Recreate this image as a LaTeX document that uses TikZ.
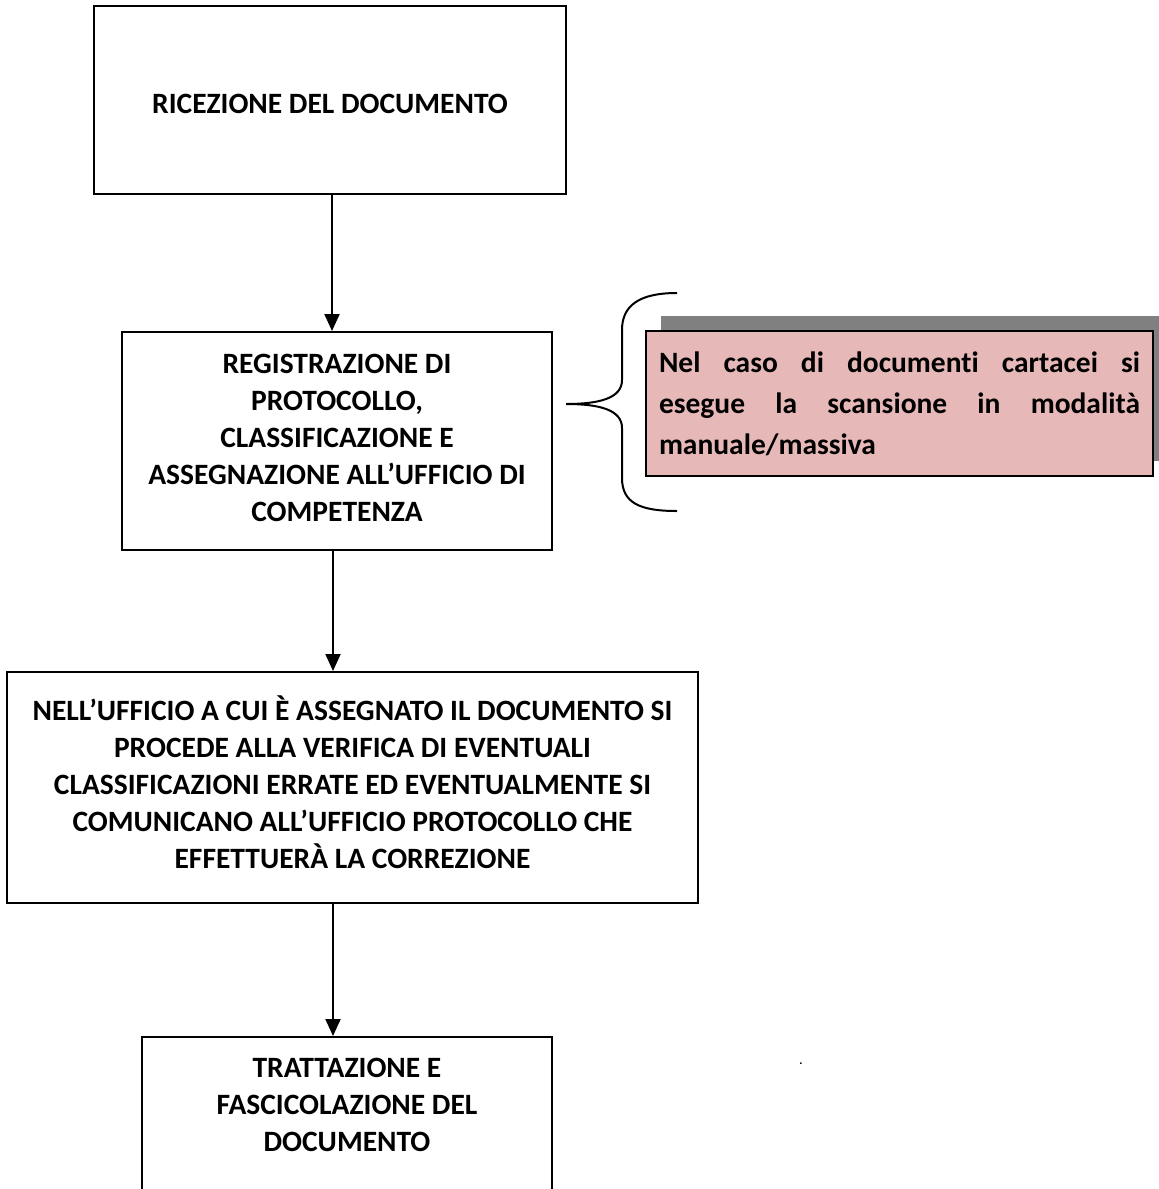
\documentclass[tikz,border=0pt]{standalone}
\usepackage{fontspec}
\setmainfont{Carlito}[Ligatures=NoCommon]
\usetikzlibrary{arrows.meta,shadows}
\tikzset{
  boxnode/.style={draw=black, line width=1pt, rectangle, inner sep=0pt},
  txtnode/.style={align=center, inner sep=0pt, font=\fontsize{14.75pt}{18.5pt}\selectfont\bfseries},
  flowarrow/.style={draw=black, line width=1pt, -{Triangle[width=7.5pt,length=8.5pt]}},
  notebox/.style={draw=black, line width=1pt, fill=pinkfill, rectangle, inner sep=0pt,
     minimum width=253.5pt, minimum height=72.5pt,
     drop shadow={shadow xshift=7.5pt, shadow yshift=7.5pt, fill=shadowgray, opacity=1}},
  notetext/.style={align=justify, text width=240.5pt, inner sep=0pt, font=\fontsize{14.75pt}{20.5pt}\selectfont\bfseries},
  bracestyle/.style={draw=black, line width=1pt}
}
\definecolor{pinkfill}{HTML}{E6B8B7}
\definecolor{shadowgray}{HTML}{808080}
\begin{document}
\begin{tikzpicture}[x=0.5pt,y=-0.5pt]
\useasboundingbox (0,0) rectangle (1159,1189);
% boxes
\node[boxnode, minimum width=236pt, minimum height=94pt] (b1) at (330,100) {};
\node[txtnode] (t1) at (330,104) {RICEZIONE DEL DOCUMENTO};
\node[boxnode, minimum width=215pt, minimum height=109pt] (b2) at (337,441) {};
\node[txtnode] (t2) at (337,438) {REGISTRAZIONE DI\\PROTOCOLLO,\\CLASSIFICAZIONE E\\ASSEGNAZIONE ALL’UFFICIO DI\\COMPETENZA};
\node[boxnode, minimum width=345.5pt, minimum height=115.5pt] (b3) at (352.5,787.5) {};
\node[txtnode] (t3) at (352.5,782) {NELL’UFFICIO A CUI È ASSEGNATO IL DOCUMENTO SI\\PROCEDE ALLA VERIFICA DI EVENTUALI\\CLASSIFICAZIONI ERRATE ED EVENTUALMENTE SI\\COMUNICANO ALL’UFFICIO PROTOCOLLO CHE\\EFFETTUERÀ LA CORREZIONE};
\node[boxnode, minimum width=205pt, minimum height=100pt, anchor=north] (b4) at (347,1036) {};
\node[txtnode] (t4) at (347,1105) {TRATTAZIONE E\\FASCICOLAZIONE DEL\\DOCUMENTO};
% arrows
\draw[flowarrow] (b1.south -| 332,0) -- (b2.north -| 332,0);
\draw[flowarrow] (b2.south -| 333,0) -- (b3.north -| 333,0);
\draw[flowarrow] (b3.south -| 333,0) -- (b4.north -| 333,0);
% note
\node[notebox] (note) at (899.5,403.5) {};
\node[notetext] (notet) at (899.5,404) {\hyphenpenalty=10000 Nel caso di documenti cartacei si\linebreak esegue la scansione in modalità\linebreak manuale/massiva};
% brace
\coordinate (bt) at (677,293);
\coordinate (bb) at (677,511);
\coordinate (tip) at (566,404);
\draw[bracestyle] (bt) .. controls (640,293) and (622,305) .. (622,330) -- (622,380)
  .. controls (622,398) and (600,404) .. (tip)
  .. controls (600,404) and (622,410) .. (622,428) -- (622,478)
  .. controls (622,503) and (640,511) .. (bb);
% stray dot
\node[inner sep=0pt, font=\fontsize{6pt}{7pt}\selectfont\bfseries] (dot) at (801,1064) {.};
\end{tikzpicture}
\end{document}
